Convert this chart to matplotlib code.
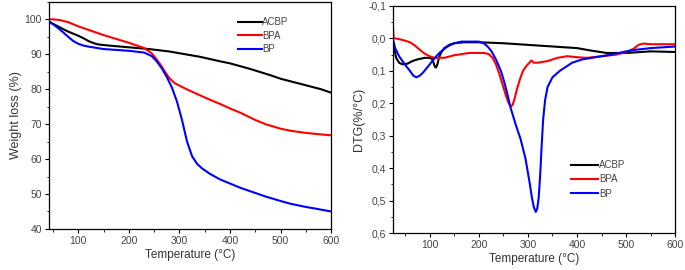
import numpy as np
import matplotlib.pyplot as plt
from matplotlib.ticker import MultipleLocator, FuncFormatter

plt.rcParams['font.family'] = ['Liberation Sans', 'DejaVu Sans']

# TGA data (temperature in C, weight %)
tga_acbp_t = [40, 50, 60, 70, 80, 90, 100, 110, 120, 130, 140, 160, 200, 240, 280, 300, 340, 380, 400, 440, 480, 500, 540, 580, 600]
tga_acbp_w = [99.5, 98.7, 98, 97.2, 96.5, 95.9, 95.3, 94.6, 93.8, 93.2, 92.8, 92.5, 92, 91.5, 90.8, 90.3, 89.3, 88, 87.4, 85.8, 84, 83, 81.5, 80, 79]

tga_bpa_t = [40, 50, 64, 80, 100, 150, 200, 230, 245, 255, 265, 270, 275, 280, 290, 300, 310, 320, 340, 360, 380, 400, 420, 450, 470, 500, 520, 550, 570, 600]
tga_bpa_w = [100, 100, 99.8, 99.2, 98, 95.5, 93.3, 91.8, 90.3, 88.5, 86.5, 85.3, 84.2, 83.2, 81.8, 81, 80.3, 79.6, 78.3, 77, 75.8, 74.5, 73.3, 71.2, 70, 68.7, 68.1, 67.5, 67.2, 66.8]

tga_bp_t = [40, 50, 60, 70, 80, 90, 100, 110, 120, 150, 200, 230, 245, 255, 265, 275, 285, 295, 305, 315, 325, 335, 345, 360, 380, 400, 420, 450, 470, 500, 520, 550, 570, 600]
tga_bp_w = [99.5, 98.6, 97.5, 96.3, 95, 93.8, 93, 92.5, 92.2, 91.5, 91, 90.5, 89.5, 88, 86, 83.5, 80.5, 76.5, 71.2, 65, 60.8, 58.6, 57.3, 55.8, 54.2, 53, 51.8, 50.3, 49.3, 48, 47.2, 46.3, 45.8, 45]

# DTG data (temperature in C, %/C)
dtg_acbp_t = [25, 28, 32, 38, 45, 55, 65, 75, 90, 100, 105, 108, 111, 113, 116, 119, 123, 130, 140, 150, 170, 200, 250, 300, 350, 400, 430, 460, 500, 550, 600]
dtg_acbp_v = [0.0, 0.03, 0.06, 0.075, 0.08, 0.078, 0.07, 0.065, 0.06, 0.06, 0.063, 0.075, 0.088, 0.09, 0.08, 0.06, 0.045, 0.03, 0.02, 0.015, 0.012, 0.012, 0.015, 0.02, 0.025, 0.03, 0.038, 0.045, 0.045, 0.04, 0.042]

dtg_bpa_t = [25, 27, 30, 40, 50, 60, 70, 80, 90, 100, 110, 130, 150, 180, 210, 220, 228, 235, 242, 250, 256, 261, 265, 269, 273, 278, 284, 290, 297, 303, 307, 312, 320, 340, 360, 380, 400, 420, 450, 480, 500, 515, 525, 535, 550, 600]
dtg_bpa_v = [-0.05, 0.0, 0.0, 0.003, 0.007, 0.012, 0.022, 0.035, 0.047, 0.055, 0.06, 0.06, 0.052, 0.045, 0.045, 0.048, 0.06, 0.08, 0.11, 0.15, 0.18, 0.2, 0.21, 0.205, 0.185, 0.155, 0.125, 0.1, 0.085, 0.075, 0.068, 0.075, 0.075, 0.07, 0.06, 0.055, 0.058, 0.06, 0.055, 0.05, 0.042, 0.032, 0.02, 0.016, 0.018, 0.018]

dtg_bp_t = [25, 30, 38, 45, 52, 60, 67, 73, 80, 87, 95, 103, 112, 120, 130, 140, 150, 165, 175, 190, 200, 210, 218, 226, 235, 245, 252, 258, 265, 275, 285, 295, 303, 308, 312, 316, 319, 322, 325, 328, 331, 335, 340, 350, 365, 375, 390, 410, 430, 450, 470, 500, 520, 550, 600]
dtg_bp_v = [0.0, 0.03, 0.055, 0.07, 0.085, 0.1, 0.115, 0.12, 0.115, 0.105, 0.09, 0.075, 0.058, 0.045, 0.032, 0.022, 0.015, 0.01, 0.01, 0.01, 0.01, 0.015, 0.025, 0.04, 0.065, 0.1, 0.135, 0.17, 0.215, 0.265, 0.31, 0.37, 0.44, 0.49, 0.52, 0.535, 0.525, 0.49, 0.42, 0.33, 0.25, 0.19, 0.15, 0.12, 0.1, 0.09, 0.075, 0.065, 0.06, 0.055, 0.05, 0.04, 0.035, 0.03, 0.025]

labels = ['ACBP', 'BPA', 'BP']
colors = ['black', 'red', 'blue']

fig = plt.figure(figsize=(6.85, 2.7), dpi=100)
ax1 = fig.add_axes([0.0715, 0.152, 0.412, 0.841])
ax2 = fig.add_axes([0.574, 0.137, 0.412, 0.841])

for t, w, lab, c in zip([tga_acbp_t, tga_bpa_t, tga_bp_t], [tga_acbp_w, tga_bpa_w, tga_bp_w], labels, colors):
    ax1.plot(t, w, color=c, lw=1.5, label=lab)

for t, v, lab, c in zip([dtg_acbp_t, dtg_bpa_t, dtg_bp_t], [dtg_acbp_v, dtg_bpa_v, dtg_bp_v], labels, colors):
    ax2.plot(t, v, color=c, lw=1.5, label=lab)

ax1.set_xlim(42, 600)
ax1.set_ylim(40, 105)
ax1.xaxis.set_major_locator(MultipleLocator(100))
ax1.xaxis.set_minor_locator(MultipleLocator(50))
ax1.yaxis.set_major_locator(MultipleLocator(10))
ax1.yaxis.set_minor_locator(MultipleLocator(5))
ax1.set_xlabel('Temperature (°C)', fontsize=8.5, labelpad=2, color='#333333')
ax1.set_ylabel('Weight loss (%)', fontsize=9, labelpad=2, color='#333333')
ax1.legend(loc='upper left', bbox_to_anchor=(0.64, 0.97), frameon=False, fontsize=7,
           handlelength=2.4, handletextpad=0.05, labelspacing=0.35, labelcolor='#444444')

ax2.set_xlim(26, 600)
ax2.set_ylim(0.6, -0.1)
ax2.xaxis.set_major_locator(MultipleLocator(100))
ax2.xaxis.set_minor_locator(MultipleLocator(50))
ax2.yaxis.set_major_locator(MultipleLocator(0.1))
ax2.yaxis.set_minor_locator(MultipleLocator(0.05))
ax2.yaxis.set_major_formatter(FuncFormatter(lambda v, p: ('%.1f' % (v + 0.0)).replace('.', ',').replace('-0,0', '0,0')))
ax2.set_xlabel('Temperature (°C)', fontsize=8.5, labelpad=2, color='#333333')
ax2.set_ylabel('DTG(%/°C)', fontsize=9, labelpad=2, color='#333333')
ax2.legend(loc='upper left', bbox_to_anchor=(0.6, 0.36), frameon=False, fontsize=7,
           handlelength=2.8, handletextpad=0.05, labelspacing=0.45, labelcolor='#444444')

for ax in (ax1, ax2):
    ax.tick_params(which='major', direction='out', length=3, width=0.8, labelsize=7.5, pad=2, labelcolor='#444444')
    ax.tick_params(which='minor', direction='out', length=1.8, width=0.6)
    for s in ax.spines.values():
        s.set_linewidth(0.9)

fig.savefig('out.png', dpi=100)
